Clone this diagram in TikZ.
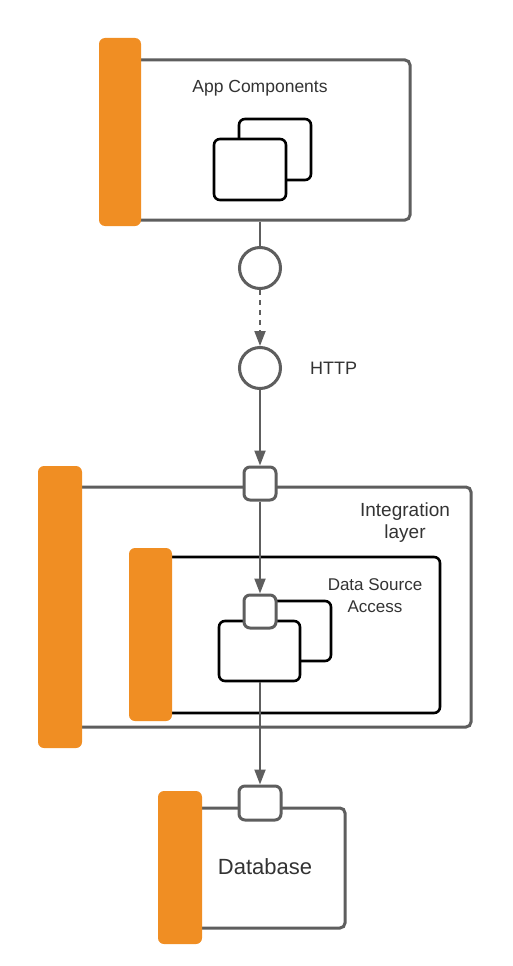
\documentclass[tikz,border=0pt]{standalone}
\usepackage{fontspec}
\setmainfont{Liberation Sans}
\usetikzlibrary{arrows.meta}
\definecolor{barorange}{HTML}{F08E23}
\definecolor{linegray}{HTML}{5E5E5E}
\definecolor{textgray}{HTML}{333333}
\tikzset{
  graybox/.style={draw=linegray, line width=3pt, rounded corners=5pt, fill=white, inner sep=0pt},
  blackbox/.style={draw=black, line width=2.6pt, rounded corners=6pt, fill=white, inner sep=0pt},
  orangebar/.style={fill=barorange, rounded corners=6pt, inner sep=0pt},
  portbox/.style={draw=linegray, line width=3pt, rounded corners=6pt, fill=white, inner sep=0pt},
  iface/.style={circle, draw=linegray, line width=3pt, fill=white, minimum size=41pt, inner sep=0pt},
  conn/.style={draw=linegray, line width=2pt},
  arr/.style={conn, -{Triangle[length=15pt,width=11pt]}},
  lbl/.style={text=textgray, inner sep=0pt, align=center},
}
\begin{document}
\begin{tikzpicture}[x=1pt,y=-1pt]
\useasboundingbox (0,0) rectangle (513,966);
% top box
\node[graybox, minimum width=290pt, minimum height=160pt] (appbox) at (265,140) {};
\node[orangebar, minimum width=42pt, minimum height=188pt] (appbar) at (120,132) {};
\node[blackbox, minimum width=72pt, minimum height=61pt] (appback) at (275,149.5) {};
\node[blackbox, minimum width=72pt, minimum height=61pt] (appfront) at (250,169.5) {};
\node[lbl, font=\fontsize{17.5}{21}\selectfont] (applbl) at (260,88) {App Components};
% interfaces
\node[iface] (c1) at (260,268) {};
\node[iface] (c2) at (260,368) {};
\node[lbl, anchor=west, font=\fontsize{18}{22}\selectfont] (http) at (310,368) {HTTP};
% integration layer
\node[graybox, minimum width=411pt, minimum height=240pt] (intbox) at (265.5,607) {};
\node[orangebar, minimum width=44pt, minimum height=282pt] (intbar) at (60,607) {};
\node[lbl, font=\fontsize{19}{22}\selectfont] (intlbl) at (405,523) {Integration\\layer};
\node[portbox, minimum width=32pt, minimum height=33pt] (p1) at (260,483.5) {};
% data source access
\node[blackbox, minimum width=290pt, minimum height=156pt] (dsabox) at (295,635) {};
\node[orangebar, minimum width=43pt, minimum height=173pt] (dsabar) at (150.5,634.5) {};
\node[lbl, font=\fontsize{17}{22}\selectfont] (dsalbl) at (375,596) {Data Source\\Access};
\node[blackbox, minimum width=81pt, minimum height=60pt] (dsaback) at (290.5,631) {};
\node[blackbox, minimum width=81pt, minimum height=60pt] (dsafront) at (259.5,651) {};
\node[portbox, minimum width=32pt, minimum height=33pt] (p2) at (260,611.5) {};
% database
\node[graybox, minimum width=165pt, minimum height=120pt] (dbbox) at (262.5,868) {};
\node[orangebar, minimum width=44pt, minimum height=153pt] (dbbar) at (180,867.5) {};
\node[portbox, minimum width=42pt, minimum height=34pt] (p3) at (260,803) {};
\node[lbl, font=\fontsize{22}{26}\selectfont] (dblbl) at (265,867) {Database};
% connectors
\draw[conn] (c1.north |- appbox.south) -- (c1.north);
\draw[arr, dash pattern=on 5pt off 5pt] (c1.south) -- (c2.north);
\draw[arr] (c2.south) -- (p1.north);
\draw[arr] (p1.south) -- (p2.north);
\draw[arr] (p3.north |- dsafront.south) -- (p3.north);
\end{tikzpicture}
\end{document}
